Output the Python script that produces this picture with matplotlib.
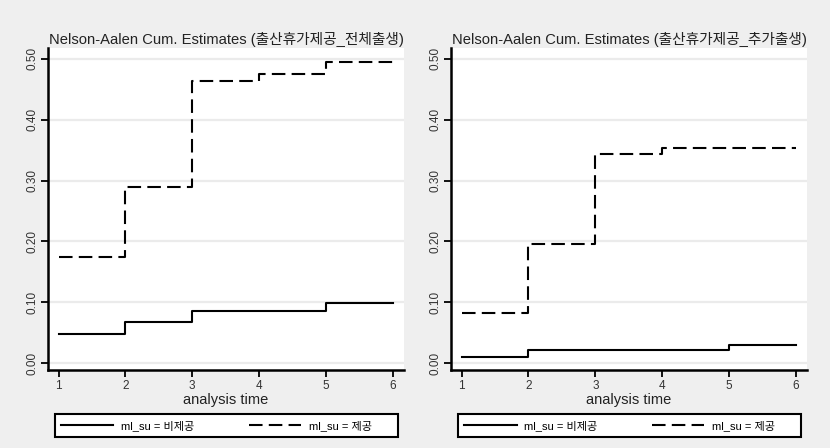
import matplotlib as mpl
mpl.use('Agg')
import matplotlib.pyplot as plt
from matplotlib.patches import Rectangle

plt.rcParams['font.family'] = ['Liberation Sans', 'Noto Sans CJK KR', 'DejaVu Sans']

# analysis time
times = [1, 2, 3, 4, 5, 6]

# left: 출산휴가제공_전체출생
left_none = [0.048, 0.068, 0.086, 0.086, 0.099, 0.099]
left_prov = [0.174, 0.289, 0.463, 0.475, 0.495, 0.495]

# right: 출산휴가제공_추가출생
right_none = [0.010, 0.022, 0.022, 0.022, 0.029, 0.029]
right_prov = [0.082, 0.196, 0.343, 0.353, 0.353, 0.353]

titles = ['Nelson-Aalen Cum. Estimates (출산휴가제공_전체출생)',
          'Nelson-Aalen Cum. Estimates (출산휴가제공_추가출생)']
labels = ['ml_su = 비제공', 'ml_su = 제공']
yticks = [0.0, 0.1, 0.2, 0.3, 0.4, 0.5]

bg = '#efefef'
fig = plt.figure(figsize=(8.3, 4.48), dpi=100, facecolor=bg)

panels = [(0.0578, left_none, left_prov, titles[0]),
          (0.5434, right_none, right_prov, titles[1])]

for x0, none, prov, title in panels:
    ax = fig.add_axes([x0, 0.1741, 0.4289, 0.7188])
    ax.set_facecolor('white')
    for y in yticks:
        ax.axhline(y, color='#ebebeb', lw=1.6, zorder=0)
    ax.step(times, none, where='post', color='black', lw=1.5, label=labels[0])
    l2, = ax.step(times, prov, where='post', color='black', lw=1.5, label=labels[1])
    l2.set_dashes((6.5, 3))
    ax.set_xlim(0.84, 6.17)
    ax.set_ylim(-0.0115, 0.518)
    ax.set_xticks(times)
    ax.set_yticks(yticks)
    ax.set_yticklabels(['%.2f' % y for y in yticks])
    ax.tick_params(axis='y', labelrotation=90, length=5, width=1.3, labelsize=8.5,
                   labelcolor='#333333', pad=2)
    ax.tick_params(axis='x', length=5, width=1.3, labelsize=8.5,
                   labelcolor='#333333', pad=2)
    for lab in ax.get_yticklabels():
        lab.set_va('center')
    for s in ['top', 'right']:
        ax.spines[s].set_visible(False)
    for s in ['left', 'bottom']:
        ax.spines[s].set_linewidth(1.8)
    ax.set_xlabel('analysis time', fontsize=10.5, color='#222222', labelpad=1)
    ax.set_title(title, fontsize=10.6, color='#222222', pad=3)

    # legend box below the plot
    box = Rectangle((0.0197, -0.208), 0.963, 0.071, transform=ax.transAxes,
                    facecolor='white', edgecolor='black', lw=1.5, clip_on=False)
    ax.add_patch(box)
    ax.legend(loc='center left', bbox_to_anchor=(0.028, -0.1725),
              ncol=2, fontsize=8, handlelength=4.7, frameon=False,
              borderaxespad=0, borderpad=0.3, handletextpad=0.7,
              columnspacing=4.9)

fig.savefig('out.png', dpi=100, facecolor=bg)
